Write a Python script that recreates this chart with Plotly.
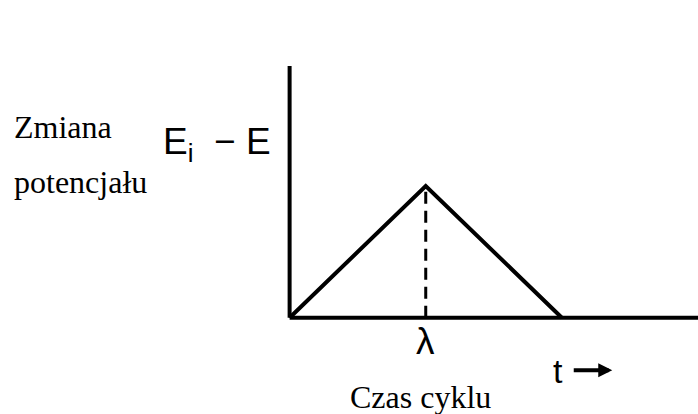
import plotly.graph_objects as go

# cycle: potential sweep up to lambda, then back down
t_vals = [0, 1, 2]
e_vals = [0, 1, 0]
lam = 1
x_end = 3.0
y_top = 1.91

fig = go.Figure()

# axes drawn by hand (sketch style)
fig.add_trace(go.Scatter(x=[0, 0], y=[0, y_top], mode="lines",
                         line=dict(color="black", width=4)))
fig.add_trace(go.Scatter(x=[0, x_end], y=[0, 0], mode="lines",
                         line=dict(color="black", width=4)))

# triangle wave
fig.add_trace(go.Scatter(x=t_vals, y=e_vals, mode="lines",
                         line=dict(color="black", width=4)))

# dashed marker at lambda
fig.add_trace(go.Scatter(x=[lam, lam], y=[0, e_vals[1]], mode="lines",
                         line=dict(color="black", width=3, dash="12px,7px")))

serif = dict(family="Liberation Serif", size=32, color="black")
sans = dict(family="Liberation Sans", size=37, color="black")

fig.add_annotation(text="λ", x=lam, xref="x", y=-0.04, yref="paper",
                   showarrow=False, font=sans, xanchor="center", yanchor="middle")
fig.add_annotation(text="t", x=1.97, xref="x", y=-0.148, yref="paper",
                   showarrow=False, font=dict(family="Liberation Sans", size=34, color="black"),
                   xanchor="center", yanchor="middle")
# time arrow
fig.add_annotation(text="", x=2.37, xref="x", y=-0.145, yref="paper",
                   ax=-40, ay=0, showarrow=True, arrowhead=2, arrowsize=0.7,
                   arrowwidth=4, arrowcolor="black")
fig.add_annotation(text="Czas cyklu", x=0.96, xref="x", y=-0.244, yref="paper",
                   showarrow=False, font=serif, xanchor="center", yanchor="middle")
fig.add_annotation(text="Zmiana", x=-0.626, xref="paper", y=0.753, yref="paper",
                   showarrow=False, font=serif, xanchor="left", yanchor="middle")
fig.add_annotation(text="potencjału", x=-0.626, xref="paper", y=0.55, yref="paper",
                   showarrow=False, font=serif, xanchor="left", yanchor="middle")
fig.add_annotation(text="E<sub>i</sub>  − E", x=-0.14, xref="paper", y=0.69, yref="paper",
                   showarrow=False, font=sans, xanchor="center", yanchor="middle")

fig.update_xaxes(range=[-0.1, x_end], visible=False)
fig.update_yaxes(range=[-0.1, 1.955], visible=False)
fig.update_layout(
    width=698, height=414,
    margin=dict(l=276, r=0, t=60, b=83),
    paper_bgcolor="white", plot_bgcolor="white",
    showlegend=False,
)

fig.write_html("out.html", config={"displayModeBar": False},
               post_script="document.body.style.margin = '0';")
